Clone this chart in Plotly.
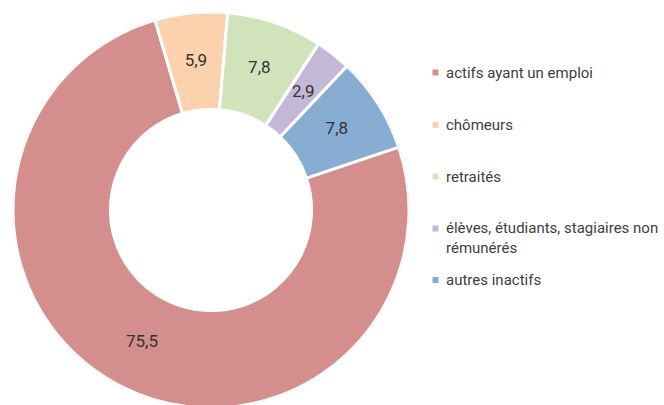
import plotly.graph_objects as go

# ---- data ----
categories = ["actifs ayant un emploi", "chômeurs", "retraités",
              "élèves, étudiants, stagiaires non rémunérés", "autres inactifs"]
legend_labels = ["actifs ayant un emploi", "chômeurs", "retraités",
                 "élèves, étudiants, stagiaires non<br>rémunérés", "autres inactifs"]
values = [75.5, 5.9, 7.8, 2.9, 7.8]

# ---- style ----
colors = ["#D48E8D", "#FCD1AD", "#D0E3BB", "#C3B9D7", "#88ADD3"]
W, H = 664, 405          # visible window
FIG_H = 410              # donut runs slightly past the bottom edge (clipped)
FONT = "Roboto"
ROTATION = 71.5          # start angle of first slice, clockwise from 12 o'clock
HOLE = 0.508
CX, CY, R = 211, 210, 198
DOMAIN = dict(x=[(CX - R) / W, (CX + R) / W],
              y=[(FIG_H - CY - R) / FIG_H, (FIG_H - CY + R) / FIG_H])

# angular extent of every slice (derived from the values)
total = sum(values)
widths = [v / total * 360 for v in values]
mid_theta, acc = [], 0.0
for w in widths:
    mid_theta.append(ROTATION + acc + w / 2)
    acc += w

fig = go.Figure()
# donut slices drawn as polar bars on a hidden polar axis
fig.add_trace(go.Barpolar(
    theta=mid_theta, width=widths, r=[1 - HOLE] * len(values), base=[HOLE] * len(values),
    marker=dict(color=colors, line=dict(color="white", width=3)),
    hovertext=[f"{c}: {v:.1f}".replace(".", ",") for c, v in zip(categories, values)],
    hoverinfo="text", showlegend=False,
))
# value labels in the middle of the ring
fig.add_trace(go.Scatterpolar(
    theta=mid_theta, r=[(1 + HOLE) / 2] * len(values), mode="text",
    text=[f"{v:.1f}".replace(".", ",") for v in values],
    textposition="middle center",
    textfont=dict(family=FONT, size=17, color="#333333"),
    hoverinfo="skip", showlegend=False,
))

# custom legend (markers through a hidden pixel-mapped axis + text)
row_y = [72.5, 125, 176.5, 228.5, 280]
marker_x, text_x, line_gap = 435.5, 444, 19.5
fig.add_trace(go.Scatter(
    x=[marker_x] * len(categories), y=row_y, mode="markers",
    marker=dict(symbol="square", size=6, color=colors, line=dict(width=0)),
    hoverinfo="skip", showlegend=False,
))
annotations = []
for lab, y in zip(legend_labels, row_y):
    n = lab.count("<br>") + 1
    annotations.append(dict(
        x=text_x, y=y + (n - 1) * line_gap / 2, xref="x", yref="y",
        text=lab, showarrow=False, xanchor="left", yanchor="middle", align="left",
        font=dict(family=FONT, size=15, color="#404040"),
    ))

fig.update_layout(
    width=W, height=FIG_H, margin=dict(l=0, r=0, t=0, b=0),
    paper_bgcolor="white", plot_bgcolor="white",
    xaxis=dict(visible=False, range=[0, W], domain=[0, 1], fixedrange=True),
    yaxis=dict(visible=False, range=[FIG_H, 0], domain=[0, 1], fixedrange=True),
    polar=dict(
        domain=DOMAIN, bgcolor="rgba(0,0,0,0)",
        radialaxis=dict(visible=False, range=[0, 1]),
        angularaxis=dict(visible=False, rotation=90, direction="clockwise"),
    ),
    annotations=annotations,
    showlegend=False,
)
post = ("document.documentElement.style.overflow='hidden';"
        "document.body.style.margin='0';document.body.style.overflow='hidden';"
        "var d=document.getElementById('{plot_id}');"
        f"d.style.height='{H}px';d.style.overflow='hidden';")
fig.write_html("out.html", config={"displayModeBar": False}, post_script=post)
